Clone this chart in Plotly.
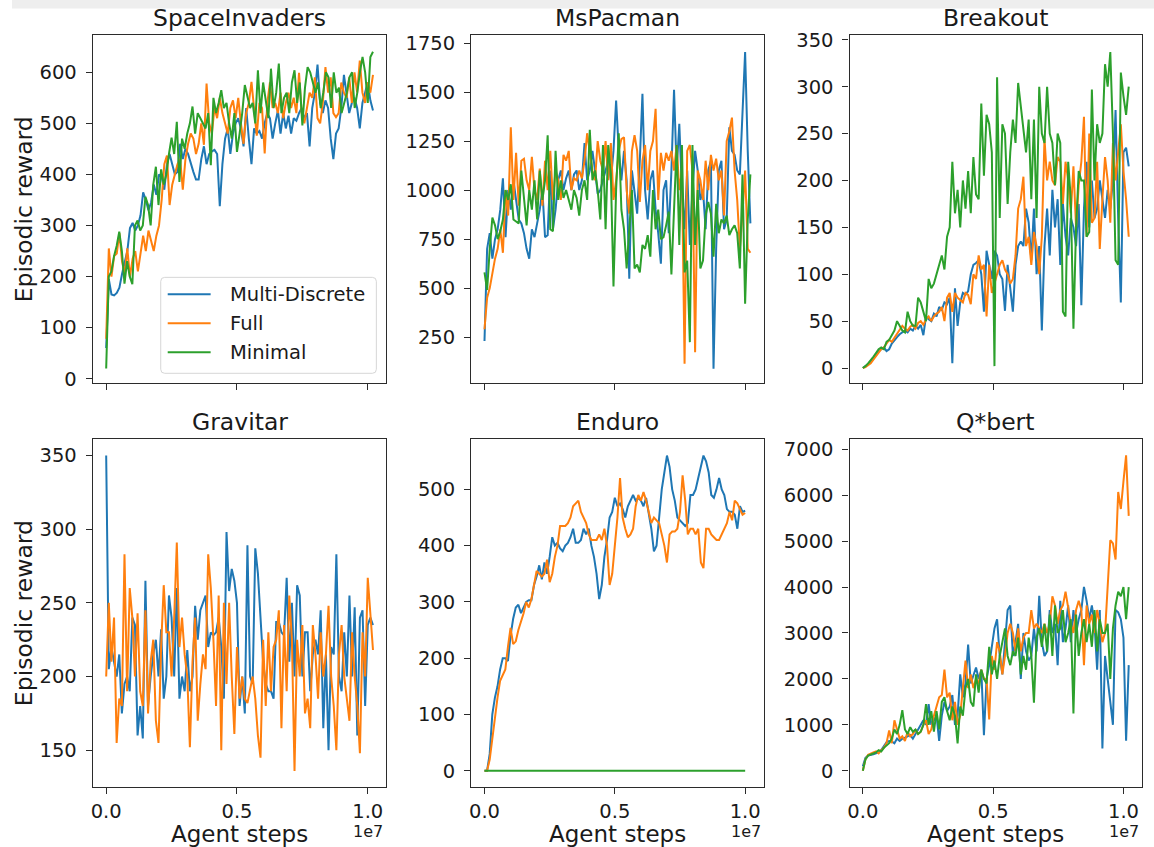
import numpy as np
import plotly.graph_objects as go

W, H = 1154, 847

# ---------------- data ----------------
series_names = ["Multi-Discrete", "Full", "Minimal"]
colors = ["#1f77b4", "#ff7f0e", "#2ca02c"]
x_end_default = 1.02e7
x_end_enduro = 1.0e7
x_tick_vals = [0, 0.5e7, 1.0e7]
x_tick_text = ["0.0", "0.5", "1.0"]

si_multi = [60, 195, 165, 163, 168, 178, 205, 230, 250, 295,
            305, 290, 300, 320, 365, 350, 330, 345, 380, 360,
            400, 395, 370, 420, 440, 420, 400, 405, 460, 430,
            450, 440, 420, 405, 390, 390, 430, 455, 420, 440,
            445, 448, 440, 338, 420, 470, 490, 440, 480, 500,
            510, 490, 455, 530, 470, 420, 490, 480, 485, 470,
            500, 520, 510, 470, 500, 525, 480, 520, 490, 515,
            480, 510, 505, 520, 530, 510, 520, 455, 530, 560,
            615, 540, 520, 545, 530, 470, 430, 480, 490, 530,
            595, 560, 520, 540, 550, 530, 490, 540, 560, 580,
            545, 525]
si_full = [78, 255, 200, 240, 245, 285, 230, 205, 255, 200,
           235, 250, 210, 245, 280, 250, 290, 270, 250, 280,
           300, 350, 420, 437, 340, 380, 400, 420, 430, 370,
           430, 460, 480, 470, 440, 460, 500, 458, 578, 500,
           480, 530, 510, 550, 520, 500, 480, 530, 545, 510,
           550, 500, 460, 520, 540, 581, 520, 476, 540, 530,
           441, 540, 580, 530, 540, 520, 560, 510, 540, 560,
           530, 550, 520, 599, 520, 500, 530, 560, 550, 590,
           510, 500, 540, 610, 560, 590, 520, 512, 520, 580,
           560, 550, 590, 540, 600, 560, 623, 560, 540, 580,
           560, 595]
si_minimal = [20, 200, 210, 240, 260, 288, 250, 186, 230, 200,
              185, 300, 310, 290, 300, 356, 340, 300, 380, 415,
              340, 410, 380, 400, 440, 472, 440, 503, 385, 470,
              450, 480, 500, 533, 480, 520, 510, 500, 490, 520,
              418, 550, 520, 540, 565, 530, 540, 500, 470, 520,
              444, 480, 520, 575, 550, 530, 540, 500, 604, 520,
              580, 540, 510, 607, 530, 560, 617, 520, 550, 560,
              520, 580, 604, 540, 580, 496, 570, 610, 600, 580,
              560, 580, 530, 560, 600, 590, 530, 600, 560, 570,
              520, 540, 560, 590, 600, 530, 560, 600, 630, 600,
              540, 630, 640]

mp_multi = [230, 700, 780, 650, 750, 800, 900, 1060, 760, 1000,
            900, 1050, 950, 850, 830, 780, 700, 650, 800, 760,
            830, 900, 1000, 760, 770, 1100, 800, 900, 1050, 1100,
            1000, 1060, 1100, 1000, 1080, 1100, 1000, 1050, 1240, 1050,
            1100, 1200, 1100, 980, 1000, 1050, 1100, 1150, 1050, 1200,
            1457, 1200, 1050, 1200, 1050, 548, 1100, 1000, 880, 1150,
            1491, 1000, 850, 1050, 1100, 900, 780, 624, 1000, 1050,
            780, 1100, 1512, 1100, 1338, 1000, 800, 1100, 720, 1000,
            1200, 1100, 950, 1000, 800, 1100, 1150, 88, 700, 1100,
            1150, 800, 850, 1321, 1200, 1180, 1100, 1080, 1400, 1704,
            1200, 830]
mp_full = [290, 450, 500, 580, 650, 700, 800, 680, 1000, 870,
           1320, 950, 1190, 920, 1150, 1160, 1050, 1000, 1170, 1000,
           950, 1110, 920, 1150, 1000, 1200, 950, 1100, 1050, 950,
           1180, 1150, 1200, 1000, 1060, 1050, 1100, 1060, 1150, 1290,
           1200, 1100, 1050, 1250, 1150, 1100, 1250, 1050, 1240, 950,
           1050, 1200, 1260, 1270, 1000, 880, 1200, 1280, 1200, 940,
           1150, 1230, 1000, 1200, 1250, 1415, 950, 1190, 1100, 1190,
           1150, 1200, 1100, 1230, 1000, 1100, 114, 1200, 1230, 1100,
           173, 1100, 1050, 950, 1150, 1000, 1180, 1100, 1160, 1050,
           1100, 870, 1250, 1300, 1370, 1100, 950, 700, 880, 1100,
           700, 680]
mp_minimal = [580, 490, 700, 860, 820, 750, 790, 850, 1000, 950,
              1030, 850, 840, 830, 1100, 950, 820, 1000, 900, 1050,
              850, 1100, 950, 1050, 1280, 800, 790, 1200, 950, 1050,
              960, 1000, 950, 900, 1000, 960, 870, 1000, 1050, 950,
              1308, 1050, 1100, 1000, 850, 1230, 800, 1230, 1080, 508,
              1000, 1290, 900, 800, 600, 780, 1000, 600, 620, 580,
              720, 700, 770, 660, 1000, 800, 900, 750, 760, 820,
              890, 570, 860, 1230, 720, 1230, 580, 640, 224, 1230,
              720, 1000, 600, 640, 870, 940, 880, 660, 930, 780,
              850, 830, 870, 770, 800, 820, 780, 600, 1080, 420,
              850, 1080]

bo_multi = [0, 2, 4, 6, 10, 14, 18, 20, 22, 18,
            20, 26, 30, 33, 36, 38, 40, 38, 42, 40,
            45, 42, 46, 35, 55, 52, 50, 58, 55, 65,
            62, 70, 68, 75, 5, 85, 45, 70, 80, 78,
            82, 100, 110, 112, 115, 100, 60, 125, 110, 95,
            125, 120, 100, 95, 61, 110, 85, 60, 110, 130,
            135, 130, 170, 155, 115, 170, 100, 130, 40, 130,
            170, 120, 190, 150, 180, 110, 175, 140, 120, 160,
            150, 130, 175, 67, 170, 220, 150, 200, 160, 170,
            200, 180, 160, 190, 170, 200, 275, 160, 70, 230,
            235, 215]
bo_full = [0, 1, 3, 5, 9, 13, 17, 20, 22, 26,
           30, 28, 32, 36, 40, 45, 42, 40, 44, 46,
           42, 48, 50, 46, 52, 55, 50, 55, 58, 60,
           65, 50, 75, 80, 60, 80, 75, 72, 70, 80,
           78, 68, 100, 95, 120, 105, 110, 55, 110, 80,
           90, 100, 110, 115, 105, 100, 90, 95, 120, 170,
           180, 204, 130, 140, 110, 145, 130, 100, 140, 245,
           200, 220, 200, 195, 225, 220, 175, 220, 200, 165,
           215, 150, 195, 220, 268, 140, 250, 155, 160, 220,
           127, 180, 225, 200, 155, 240, 200, 230, 260, 210,
           180, 140]
bo_minimal = [0, 2, 5, 8, 12, 16, 20, 22, 20, 28,
              30, 35, 40, 50, 45, 40, 38, 60, 50, 45,
              45, 75, 70, 60, 50, 95, 85, 90, 100, 110,
              120, 105, 140, 150, 220, 165, 190, 150, 200, 170,
              210, 165, 225, 185, 180, 282, 205, 270, 260, 230,
              2, 310, 160, 260, 250, 175, 230, 265, 240, 304,
              280, 250, 230, 265, 180, 265, 160, 300, 250, 240,
              300, 250, 240, 195, 250, 240, 60, 55, 220, 180,
              42, 150, 210, 200, 200, 140, 145, 297, 200, 260,
              240, 250, 324, 300, 337, 250, 115, 110, 315, 290,
              270, 300]

gr_multi = [350, 205, 220, 210, 200, 215, 175, 195, 200, 190,
            240, 235, 160, 180, 158, 265, 180, 200, 215, 225,
            200, 232, 185, 200, 255, 240, 200, 260, 185, 200,
            190, 218, 190, 200, 248, 225, 245, 250, 255, 220,
            230, 228, 230, 240, 220, 185, 298, 258, 273, 265,
            250, 180, 200, 175, 289, 200, 195, 287, 270, 240,
            210, 195, 190, 190, 185, 237, 237, 230, 228, 267,
            210, 250, 200, 262, 255, 200, 230, 230, 190, 215,
            225, 215, 245, 165, 215, 150, 220, 215, 283, 200,
            190, 230, 200, 255, 200, 247, 160, 240, 245, 180,
            235, 240, 235]
gr_full = [200, 250, 210, 240, 155, 185, 180, 283, 190, 260,
           240, 200, 243, 190, 180, 245, 175, 210, 225, 170,
           155, 220, 262, 230, 230, 200, 240, 291, 220, 240,
           215, 200, 152, 210, 240, 170, 195, 215, 205, 283,
           260, 225, 180, 255, 150, 250, 195, 250, 200, 161,
           220, 185, 200, 185, 182, 190, 200, 185, 160, 145,
           225, 180, 230, 190, 220, 225, 245, 165, 235, 190,
           255, 225, 136, 225, 200, 235, 175, 185, 165, 235,
           215, 185, 230, 200, 215, 248, 200, 180, 150, 215,
           235, 200, 185, 170, 230, 200, 180, 148, 230, 200,
           267, 240, 218]

en_multi = [0, 0, 30, 100, 130, 150, 180, 200, 200, 195,
            240, 270, 290, 295, 280, 290, 300, 303, 303, 330,
            345, 365, 340, 370, 350, 380, 415, 400, 405, 395,
            390, 400, 405, 415, 430, 405, 405, 410, 430, 420,
            430, 400, 380, 350, 305, 330, 380, 410, 450, 460,
            485, 470, 475, 465, 450, 470, 480, 490, 480, 485,
            480, 470, 485, 460, 430, 390, 400, 450, 500, 530,
            560, 540, 500, 480, 450, 445, 440, 435, 440, 490,
            490, 500, 520, 540, 560, 550, 530, 490, 485, 500,
            520, 500, 490, 465, 460, 460, 455, 430, 470, 460,
            462]
en_full = [0, 0, 20, 60, 100, 130, 160, 170, 180, 220,
           254, 225, 230, 250, 265, 280, 300, 290, 305, 330,
           355, 350, 345, 350, 375, 335, 350, 380, 400, 435,
           435, 435, 440, 450, 470, 475, 480, 460, 450, 440,
           420, 410, 410, 410, 420, 410, 430, 400, 330, 350,
           400, 450, 520, 450, 430, 415, 420, 430, 470, 490,
           480, 495, 480, 460, 440, 450, 445, 440, 420, 400,
           370, 420, 425, 425, 430, 460, 525, 480, 420, 430,
           430, 420, 430, 370, 360, 430, 430, 420, 415, 410,
           410, 420, 430, 440, 460, 445, 480, 475, 465, 455,
           458]
en_minimal = [0, 0, 0, 0, 0, 0, 0, 0, 0, 0, 0]

qb_multi = [100, 280, 330, 340, 360, 380, 400, 450, 550, 620,
            650, 640, 600, 700, 650, 700, 720, 750, 780, 700,
            800, 900, 1000, 1100, 1000, 1450, 1000, 1100, 1200, 653,
            1200, 1500, 1300, 1400, 1650, 1000, 1200, 2100, 1600, 1900,
            2750, 1900, 2100, 2250, 2000, 2200, 776, 2000, 2300, 2700,
            3100, 3300, 2500, 2100, 2900, 3500, 3600, 2500, 2800, 3200,
            2000, 3000, 2600, 2400, 2500, 3100, 2600, 3808, 2800, 2500,
            2600, 3500, 3000, 3200, 2300, 3700, 2800, 3100, 3600, 2800,
            3500, 3000, 3300, 3500, 4004, 3700, 3300, 3600, 3200, 2200,
            3500, 486, 2500, 2000, 1600, 1000, 3500, 3450, 3300, 2900,
            653, 2300]
qb_full = [0, 250, 350, 380, 400, 420, 380, 450, 500, 600,
           880, 600, 1100, 900, 700, 750, 650, 850, 750, 800,
           900, 800, 850, 1000, 1100, 800, 900, 1200, 1400, 1600,
           1650, 2205, 1600, 1700, 1100, 1500, 1000, 1200, 1800, 2400,
           1800, 2100, 1800, 2000, 1900, 2200, 2000, 2000, 1117, 2500,
           2200, 2800, 2600, 2100, 2500, 3000, 3200, 3000, 2600, 3100,
           2600, 2900, 3000, 3000, 3500, 3100, 3200, 3100, 3000, 3200,
           3000, 3200, 3800, 3600, 3200, 3500, 3600, 3900, 3500, 3200,
           3000, 3500, 3700, 3500, 2300, 3600, 3200, 3400, 3000, 3500,
           3200, 2800, 3000, 4000, 5020, 4950, 4600, 6071, 5700, 6300,
           6870, 5550]
qb_minimal = [0, 250, 330, 350, 380, 400, 450, 420, 500, 550,
              600, 700, 900, 800, 1000, 1320, 900, 800, 950, 850,
              900, 800, 850, 1000, 1450, 1000, 1300, 850, 1300, 900,
              1500, 1600, 1300, 1100, 1400, 1200, 595, 1400, 1200, 1800,
              2000, 1500, 1400, 2100, 1700, 2200, 2000, 1900, 2700, 2100,
              2400, 2000, 2500, 2800, 3100, 2500, 2300, 2600, 2500, 2900,
              2100, 2500, 2200, 2900, 2500, 1480, 2900, 3100, 2700, 3200,
              2600, 3400, 2500, 3600, 3000, 3100, 3500, 2800, 3000, 3300,
              1248, 3400, 2500, 3000, 3300, 2800, 3200, 2700, 3500, 2600,
              3300, 3000, 3000, 3200, 2000, 3100, 3600, 3900, 3800, 4000,
              3300, 4000]

panel_titles = ["SpaceInvaders", "MsPacman", "Breakout", "Gravitar", "Enduro", "Q*bert"]
panel_series = [
    [si_multi, si_full, si_minimal],
    [mp_multi, mp_full, mp_minimal],
    [bo_multi, bo_full, bo_minimal],
    [gr_multi, gr_full, None],
    [en_multi, en_full, en_minimal],
    [qb_multi, qb_full, qb_minimal],
]
panel_xend = [x_end_default, x_end_default, x_end_default, x_end_default, x_end_enduro, x_end_default]
y_ticks = [
    [0, 100, 200, 300, 400, 500, 600],
    [250, 500, 750, 1000, 1250, 1500, 1750],
    [0, 50, 100, 150, 200, 250, 300, 350],
    [150, 200, 250, 300, 350],
    [0, 100, 200, 300, 400, 500],
    [0, 1000, 2000, 3000, 4000, 5000, 6000, 7000],
]
y_ranges = [
    [-9, 672],
    [14, 1789],
    [-16.3, 354.6],
    [125, 361],
    [-29, 589],
    [-355, 7218],
]
x_range = [-0.051e7, 1.071e7]

# ---------------- layout geometry (target pixels) ----------------
col_px = [(91, 385), (470, 763), (849, 1142)]
row_px = [(35, 383), (439, 787)]

# the page shot is squeezed a little vertically; compensate
Y_OFF, Y_SC = 6.5, 0.984

def px_x(p):
    return p / W

def px_y(p):
    return 1 - ((p - Y_OFF) / Y_SC) / H

FONT = "DejaVu Sans"
TXT = "#1a1a1a"
AXC = "#2b2b2b"

fig = go.Figure()
layout = dict(
    width=W, height=H, autosize=False,
    margin=dict(l=0, r=0, t=0, b=0),
    paper_bgcolor="white", plot_bgcolor="white",
    font=dict(family=FONT, color=TXT, size=19.5),
    showlegend=False,
)
annotations = []
shapes = [dict(
    type="rect", xref="paper", yref="paper", x0=px_x(10), x1=1.0,
    y0=px_y(8), y1=px_y(-2), fillcolor="#eeeeee", line=dict(width=0), layer="below",
)]

for k in range(6):
    r, c = divmod(k, 3)
    idx = k + 1
    xa = "xaxis" if idx == 1 else f"xaxis{idx}"
    ya = "yaxis" if idx == 1 else f"yaxis{idx}"
    xref = "x" if idx == 1 else f"x{idx}"
    yref = "y" if idx == 1 else f"y{idx}"
    x0p, x1p = col_px[c]
    y0p, y1p = row_px[r]
    layout[xa] = dict(
        domain=[px_x(x0p), px_x(x1p)], anchor=yref, range=x_range,
        tickvals=x_tick_vals, ticktext=x_tick_text, showticklabels=(r == 1),
        ticks="outside", ticklen=6, tickwidth=1.3, tickcolor=AXC,
        showline=True, mirror=True, linecolor=AXC, linewidth=1.3,
        showgrid=False, zeroline=False, ticklabelstandoff=0,
        tickfont=dict(family=FONT, size=19.5, color=TXT),
    )
    layout[ya] = dict(
        domain=[px_y(y1p), px_y(y0p)], anchor=xref, range=y_ranges[k],
        tickvals=y_ticks[k], ticks="outside", ticklen=6, tickwidth=1.3, tickcolor=AXC,
        showline=True, mirror=True, linecolor=AXC, linewidth=1.3,
        showgrid=False, zeroline=False, ticklabelstandoff=5,
        tickfont=dict(family=FONT, size=19.5, color=TXT),
    )
    for s, ys in enumerate(panel_series[k]):
        if ys is None:
            continue
        xs = np.linspace(0, panel_xend[k], len(ys))
        fig.add_trace(go.Scatter(
            x=xs, y=ys, mode="lines", name=series_names[s],
            line=dict(color=colors[s], width=2),
            xaxis=xref, yaxis=yref, showlegend=False,
        ))
    annotations.append(dict(
        text=panel_titles[k], x=px_x((x0p + x1p) / 2), y=px_y(y0p - 17),
        xref="paper", yref="paper", xanchor="center", yanchor="middle",
        showarrow=False, font=dict(family=FONT, size=23.5, color=TXT),
    ))
    if c == 0:
        annotations.append(dict(
            text="Episodic reward", x=px_x(22), y=px_y((y0p + y1p) / 2),
            xref="paper", yref="paper", xanchor="center", yanchor="middle",
            textangle=-90, showarrow=False, font=dict(family=FONT, size=23.5, color=TXT),
        ))
    if r == 1:
        annotations.append(dict(
            text="Agent steps", x=px_x((x0p + x1p) / 2), y=px_y(834),
            xref="paper", yref="paper", xanchor="center", yanchor="middle",
            showarrow=False, font=dict(family=FONT, size=23, color=TXT),
        ))
        annotations.append(dict(
            text="1e7", x=px_x(x1p - 1), y=px_y(831),
            xref="paper", yref="paper", xanchor="right", yanchor="middle",
            showarrow=False, font=dict(family=FONT, size=16, color=TXT),
        ))

# ----- legend drawn inside the first panel (box, line samples, labels) -----
lx0, lx1, ly0, ly1, rad = 159, 375, 277, 373, 4
box_path = (
    f"M {px_x(lx0 + rad)},{px_y(ly0)} L {px_x(lx1 - rad)},{px_y(ly0)} "
    f"Q {px_x(lx1)},{px_y(ly0)} {px_x(lx1)},{px_y(ly0 + rad)} "
    f"L {px_x(lx1)},{px_y(ly1 - rad)} Q {px_x(lx1)},{px_y(ly1)} {px_x(lx1 - rad)},{px_y(ly1)} "
    f"L {px_x(lx0 + rad)},{px_y(ly1)} Q {px_x(lx0)},{px_y(ly1)} {px_x(lx0)},{px_y(ly1 - rad)} "
    f"L {px_x(lx0)},{px_y(ly0 + rad)} Q {px_x(lx0)},{px_y(ly0)} {px_x(lx0 + rad)},{px_y(ly0)} Z"
)
shapes.append(dict(type="path", xref="paper", yref="paper", path=box_path,
                   fillcolor="rgba(255,255,255,0.8)", line=dict(color="#d6d6d6", width=1),
                   layer="above"))
for s, name in enumerate(series_names):
    yy = 294 + 29 * s
    shapes.append(dict(type="line", xref="paper", yref="paper",
                       x0=px_x(166), x1=px_x(209), y0=px_y(yy), y1=px_y(yy),
                       line=dict(color=colors[s], width=2), layer="above"))
    annotations.append(dict(
        text=name, x=px_x(226), y=px_y(yy), xref="paper", yref="paper",
        xanchor="left", yanchor="middle", showarrow=False,
        font=dict(family=FONT, size=19.5, color=TXT),
    ))

layout["annotations"] = annotations
layout["shapes"] = shapes
fig.update_layout(**layout)
fig.write_html(
    "out.html",
    config={"displayModeBar": False},
    post_script="document.body.style.margin='0';document.body.style.overflow='hidden';",
)
